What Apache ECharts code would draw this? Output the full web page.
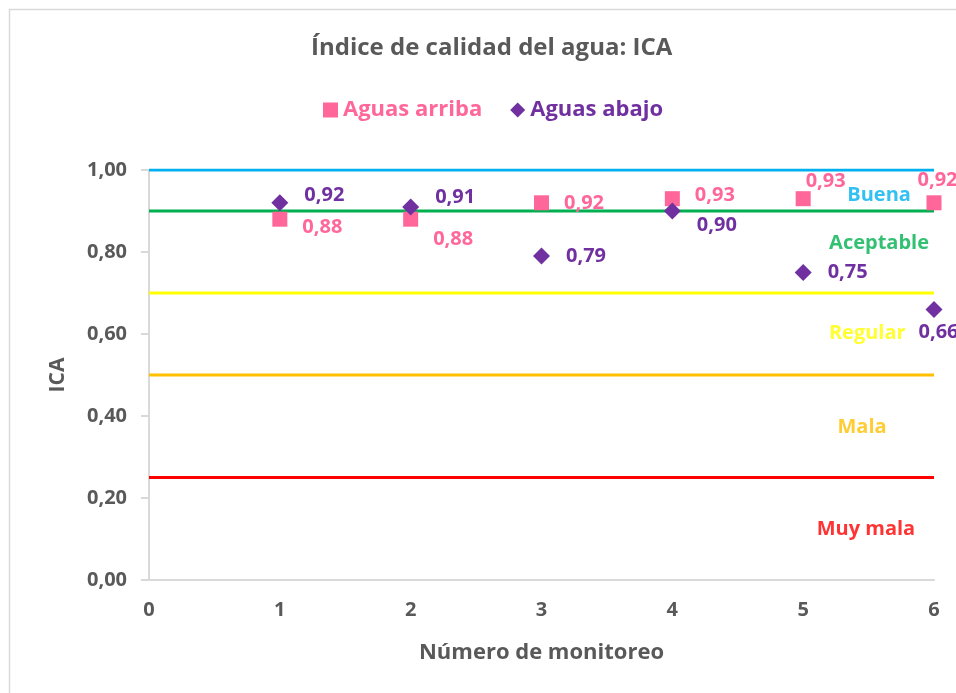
<!DOCTYPE html>
<html>
<head>
<meta charset="utf-8">
<script src="https://cdn.jsdelivr.net/npm/echarts@6/dist/echarts.min.js"></script>
<style>
  html, body { margin: 0; padding: 0; background: #fff; }
  #chart { width: 956px; height: 693px; }
</style>
</head>
<body>
<div id="chart"></div>
<script>
  // datos
  const monitoreos = [1, 2, 3, 4, 5, 6];
  const aguasArriba = [0.88, 0.88, 0.92, 0.93, 0.93, 0.92];
  const aguasAbajo = [0.92, 0.91, 0.79, 0.90, 0.75, 0.66];

  const limites = [1.0, 0.9, 0.7, 0.5, 0.25];
  const categorias = ["Buena", "Aceptable", "Regular", "Mala", "Muy mala"];
  const coloresCat = ["#00B0F0", "#00B050", "#FFFF00", "#FFC000", "#FF0000"];
  // donde va el rotulo de cada categoria (x, y en unidades del grafico)
  const rotuloX = [5.58, 5.58, 5.49, 5.45, 5.48];
  const rotuloY = [0.939, 0.822, 0.602, 0.373, 0.124];

  const xTicks = [0, 1, 2, 3, 4, 5, 6];

  // desplazamiento de las etiquetas de datos [dx, dy]
  const offArriba = [[0, 8], [0, 20], [0, 0], [0, -3], [-20, -17], [-39, -23]];
  const offAbajo = [[0, -8], [0, -10], [0, 0], [0, 14], [0, 0], [-40, 23]];

  const ROSA = "#FF6699";
  const MORADO = "#7030A0";
  const GRIS = "#595959";
  const FUENTE = "'Open Sans', Lato, sans-serif";

  const coma = (v) => v.toFixed(2).replace(".", ",");

  const chart = echarts.init(document.getElementById("chart"));

  const lineas = limites.map((t, i) => ({
    name: categorias[i],
    type: "line",
    data: [[xTicks[0], t], [xTicks[xTicks.length - 1], t]],
    symbol: "none",
    silent: true,
    z: 1,
    lineStyle: { color: coloresCat[i], width: 3 },
  }));

  function puntos(valores, offsets) {
    return valores.map((v, i) => ({
      value: [monitoreos[i], v],
      label: { offset: offsets[i] },
    }));
  }

  const option = {
    backgroundColor: "#fff",
    textStyle: { fontFamily: FUENTE },
    title: {
      text: "Índice de calidad del agua: ICA",
      left: 306,
      top: 31,
      textStyle: { color: GRIS, fontSize: 24, fontWeight: "bold", fontFamily: FUENTE },
    },
    legend: {
      top: 94,
      left: 318,
      itemWidth: 15,
      itemHeight: 15,
      itemGap: 28,
      textStyle: { fontSize: 22, fontWeight: "bold", fontFamily: FUENTE },
      data: [
        { name: "Aguas arriba", icon: "rect", textStyle: { color: ROSA } },
        { name: "Aguas abajo", icon: "diamond", textStyle: { color: MORADO } },
      ],
    },
    graphic: [
      {
        type: "rect",
        shape: { x: 9.5, y: 9.5, width: 1000, height: 720 },
        style: { fill: "none", stroke: "#D9D9D9", lineWidth: 1.5 },
        silent: true,
      },
    ],
    grid: { left: 149, right: 22, top: 170, bottom: 113 },
    xAxis: {
      type: "value",
      min: 0,
      max: 6,
      interval: 1,
      name: "Número de monitoreo",
      nameLocation: "middle",
      nameGap: 62,
      nameTextStyle: { color: GRIS, fontSize: 22, fontWeight: "bold", fontFamily: FUENTE },
      axisLine: { show: true, lineStyle: { color: "#D9D9D9", width: 2 } },
      axisTick: { show: false },
      splitLine: { show: false },
      axisLabel: {
        color: GRIS,
        fontSize: 20,
        fontWeight: "bold",
        margin: 20,
        formatter: (v) => (xTicks.includes(v) ? String(v) : ""),
      },
    },
    yAxis: {
      type: "value",
      min: 0,
      max: 1,
      interval: 0.2,
      name: "ICA",
      nameLocation: "middle",
      nameGap: 80,
      nameTextStyle: { color: GRIS, fontSize: 21, fontWeight: "bold", fontFamily: FUENTE },
      axisLine: { show: true, lineStyle: { color: "#D9D9D9", width: 2 } },
      axisTick: { show: true, length: 8, lineStyle: { color: "#D9D9D9", width: 2 } },
      splitLine: { show: false },
      axisLabel: {
        color: GRIS,
        fontSize: 20,
        fontWeight: "bold",
        margin: 22,
        formatter: (v) => coma(v),
      },
    },
    series: [
      ...lineas,
      {
        name: "Aguas arriba",
        type: "scatter",
        symbol: "rect",
        symbolSize: 15,
        z: 3,
        clip: false,
        itemStyle: { color: ROSA, opacity: 1 },
        data: puntos(aguasArriba, offArriba),
        label: {
          show: true,
          position: "right",
          distance: 15,
          color: ROSA,
          fontSize: 20,
          fontWeight: "bold",
          fontFamily: FUENTE,
          formatter: (p) => coma(p.value[1]),
        },
      },
      {
        name: "Aguas abajo",
        type: "scatter",
        symbol: "diamond",
        symbolSize: 17,
        z: 4,
        clip: false,
        itemStyle: { color: MORADO, opacity: 1 },
        data: puntos(aguasAbajo, offAbajo),
        label: {
          show: true,
          position: "right",
          distance: 16,
          color: MORADO,
          fontSize: 20,
          fontWeight: "bold",
          fontFamily: FUENTE,
          formatter: (p) => coma(p.value[1]),
        },
      },
      {
        name: "categorias",
        type: "scatter",
        symbolSize: 0,
        silent: true,
        z: 5,
        data: categorias.map((c, i) => ({
          name: c,
          value: [rotuloX[i], rotuloY[i]],
          label: { color: coloresCat[i] },
        })),
        label: {
          show: true,
          position: "inside",
          fontSize: 20,
          fontWeight: "bold",
          fontFamily: FUENTE,
          formatter: (p) => p.name,
        },
      },
    ],
  };

  chart.setOption(option);
</script>
</body>
</html>
